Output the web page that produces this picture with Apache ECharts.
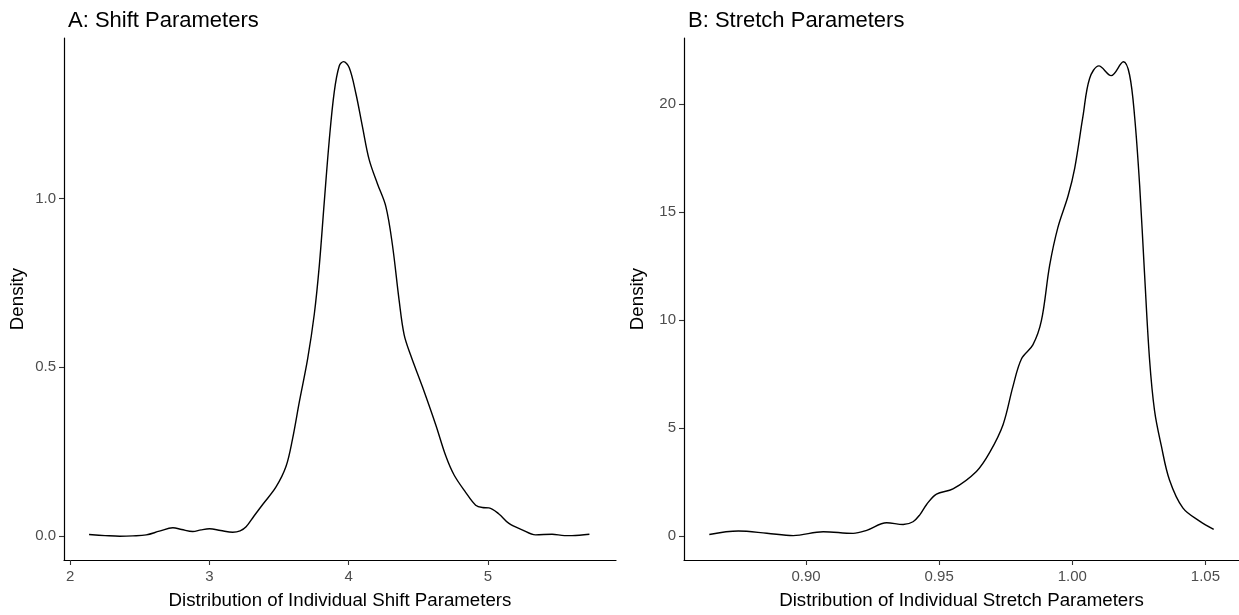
<!DOCTYPE html>
<html>
<head>
<meta charset="utf-8">
<script src="https://cdn.jsdelivr.net/npm/echarts@6/dist/echarts.min.js"></script>
<style>
html,body{margin:0;padding:0;background:#fff;}
#chart{width:1239px;height:615px;}
</style>
</head>
<body>
<div id="chart"></div>
<script>
// Panel A: shift parameter density (x, density)
const shiftX = [2.135,2.25,2.355,2.45,2.546,2.64,2.737,2.80,2.880,2.94,3.0,3.08,3.167,3.22,3.263,3.32,3.382,3.478,3.550,3.597,3.645,3.705,3.753,3.789,3.824,3.860,3.896,3.932,3.963,4.004,4.052,4.099,4.147,4.207,4.267,4.314,4.362,4.398,4.446,4.529,4.625,4.697,4.756,4.840,4.912,4.96,5.007,5.079,5.151,5.246,5.342,5.461,5.55,5.604,5.729];
const shiftY = [0.005,0.002,0.0,0.001,0.004,0.015,0.025,0.020,0.014,0.019,0.022,0.017,0.012,0.016,0.028,0.060,0.094,0.146,0.207,0.289,0.397,0.525,0.658,0.802,0.987,1.171,1.315,1.392,1.405,1.387,1.310,1.212,1.115,1.043,0.976,0.863,0.699,0.597,0.535,0.443,0.330,0.238,0.182,0.130,0.092,0.085,0.084,0.066,0.038,0.019,0.004,0.006,0.002,0.002,0.006];
// Panel B: stretch parameter density
const stretchX = [0.8637,0.8746,0.8853,0.8952,0.9065,0.9177,0.9228,0.9303,0.9365,0.9402,0.9428,0.9453,0.9490,0.9552,0.9640,0.9690,0.9740,0.9777,0.9809,0.9852,0.9884,0.9915,0.9946,0.9984,1.0009,1.0040,1.0065,1.0100,1.0146,1.0192,1.0215,1.0234,1.0253,1.0271,1.0290,1.0309,1.0334,1.0365,1.0415,1.0478,1.0531];
const stretchY = [0.08,0.24,0.14,0.03,0.21,0.13,0.27,0.62,0.54,0.67,1.0,1.47,1.95,2.19,3.0,3.88,5.16,6.92,8.20,8.85,9.97,12.53,14.29,15.74,17.02,19.42,21.18,21.76,21.31,21.95,21.35,19.42,16.22,12.21,8.20,5.80,4.20,2.60,1.31,0.70,0.32];

const shiftXTicks = [2,3,4,5];
const shiftYTicks = [0,0.5,1.0];
const stretchXTicks = [0.90,0.95,1.00,1.05];
const stretchYTicks = [0,5,10,15,20];

const titles = ['A: Shift Parameters','B: Stretch Parameters'];
const xNames = ['Distribution of Individual Shift Parameters','Distribution of Individual Stretch Parameters'];
const yName = 'Density';

const FONT = '"Liberation Sans", Arial, Helvetica, sans-serif';
const chart = echarts.init(document.getElementById('chart'), null, {renderer:'canvas'});

function xAxisCfg(idx, min, max, ticks, fmt){
  return {
    type:'value', gridIndex:idx, min:min, max:max,
    name:xNames[idx], nameLocation:'middle', nameGap:31,
    nameTextStyle:{fontFamily:FONT,fontSize:18.7,color:'#000'},
    axisLine:{show:true,onZero:false,lineStyle:{color:'#000',width:1.2}},
    axisTick:{show:true,length:5,customValues:ticks,lineStyle:{color:'#333',width:1.1}},
    axisLabel:{show:true,customValues:ticks,margin:9,formatter:fmt,fontFamily:FONT,fontSize:15,color:'#4D4D4D',showMinLabel:true,showMaxLabel:true},
    splitLine:{show:false}
  };
}
function yAxisCfg(idx, min, max, ticks, fmt){
  return {
    type:'value', gridIndex:idx, min:min, max:max,
    name:yName, nameLocation:'middle', nameGap:37,
    nameTextStyle:{fontFamily:FONT,fontSize:18.7,color:'#000'},
    axisLine:{show:true,onZero:false,lineStyle:{color:'#000',width:1.2}},
    axisTick:{show:true,length:5,customValues:ticks,lineStyle:{color:'#333',width:1.1}},
    axisLabel:{show:true,customValues:ticks,margin:8,formatter:fmt,fontFamily:FONT,fontSize:15,color:'#4D4D4D'},
    splitLine:{show:false}
  };
}

const option = {
  animation:false,
  backgroundColor:'#fff',
  title:[
    {text:titles[0],left:63,top:5,textStyle:{fontFamily:FONT,fontSize:22,fontWeight:'normal',color:'#000'}},
    {text:titles[1],left:683,top:5,textStyle:{fontFamily:FONT,fontSize:22,fontWeight:'normal',color:'#000'}}
  ],
  grid:[
    {left:64,top:38,width:552,height:529},
    {left:684,top:38,width:555,height:529}
  ],
  xAxis:[
    xAxisCfg(0,1.955,5.92,shiftXTicks,v=>String(Math.round(v))),
    xAxisCfg(1,0.8542,1.0626,stretchXTicks,v=>v.toFixed(2))
  ],
  yAxis:[
    yAxisCfg(0,-0.0703,1.475,shiftYTicks,v=>v.toFixed(1)),
    yAxisCfg(1,-1.1,23.05,stretchYTicks,v=>String(Math.round(v)))
  ],
  series:[
    {type:'line',xAxisIndex:0,yAxisIndex:0,data:shiftX.map((x,i)=>[x,shiftY[i]]),
     smooth:0.35,showSymbol:false,lineStyle:{color:'#000',width:1.4}},
    {type:'line',xAxisIndex:1,yAxisIndex:1,data:stretchX.map((x,i)=>[x,stretchY[i]]),
     smooth:0.35,showSymbol:false,lineStyle:{color:'#000',width:1.4}}
  ]
};
chart.setOption(option);
</script>
</body>
</html>
